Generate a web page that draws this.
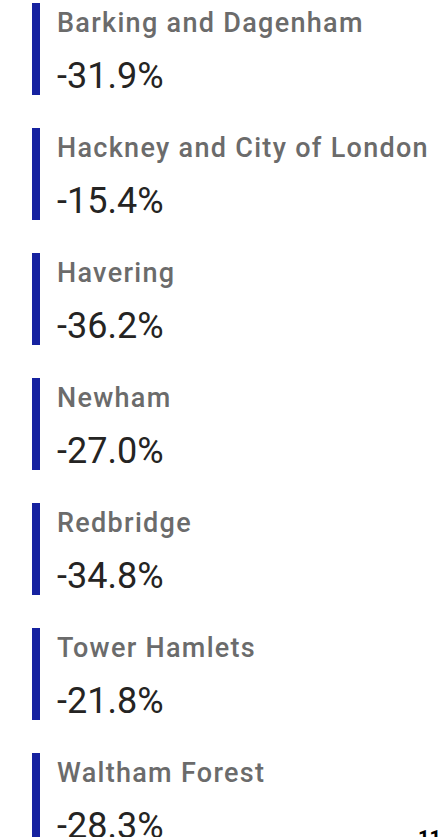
<!DOCTYPE html>
<html>
<head>
<meta charset="utf-8">
<script src="https://cdn.jsdelivr.net/npm/d3@7"></script>
<style>
  html, body { margin: 0; padding: 0; background: #fff; overflow: hidden; }
</style>
</head>
<body>
<div id="cards-container"></div>
<script>
const boroughs = [
  "Barking and Dagenham",
  "Hackney and City of London",
  "Havering",
  "Newham",
  "Redbridge",
  "Tower Hamlets",
  "Waltham Forest"
];
const changes = [-31.9, -15.4, -36.2, -27.0, -34.8, -21.8, -28.3];
const pageNumber = "11";

const width = 441;
const height = 837;
const pitch = 125;
const pad = 0.264;

const svg = d3
  .select('#cards-container')
  .append('svg')
  .attr('width', width)
  .attr('height', height);

// one card per borough, stacked at a fixed pitch
const y = d3
  .scaleBand()
  .domain(boroughs)
  .range([3, 3 + pitch * (boroughs.length - pad)])
  .paddingInner(pad)
  .paddingOuter(0)
  .align(0);

const card = svg
  .selectAll('g.card')
  .data(boroughs.map((name, i) => ({ name, value: changes[i] })))
  .enter()
  .append('g')
  .attr('class', 'card')
  .attr('transform', d => `translate(0, ${y(d.name)})`);

card
  .append('rect')
  .attr('x', 32)
  .attr('y', 0)
  .attr('width', 8)
  .attr('height', y.bandwidth())
  .style('fill', '#1622a0');

card
  .append('text')
  .attr('x', 57)
  .attr('y', 29)
  .text(d => d.name)
  .style('font-family', 'Roboto, sans-serif')
  .style('font-weight', 500)
  .style('font-size', '27px')
  .style('letter-spacing', '1.3px')
  .style('fill', '#6b6b6b');

card
  .append('text')
  .attr('x', 57)
  .attr('y', 85)
  .text(d => d.value.toFixed(1) + '%')
  .style('font-family', 'Roboto, sans-serif')
  .style('font-weight', 400)
  .style('font-size', '36px')
  .style('fill', '#252423');

// page number peeking in at the bottom-right corner
svg
  .append('text')
  .attr('x', 418)
  .attr('y', 845)
  .text(pageNumber)
  .style('font-family', 'Roboto, sans-serif')
  .style('font-weight', 700)
  .style('font-size', '20px')
  .style('fill', '#000');
</script>
</body>
</html>
